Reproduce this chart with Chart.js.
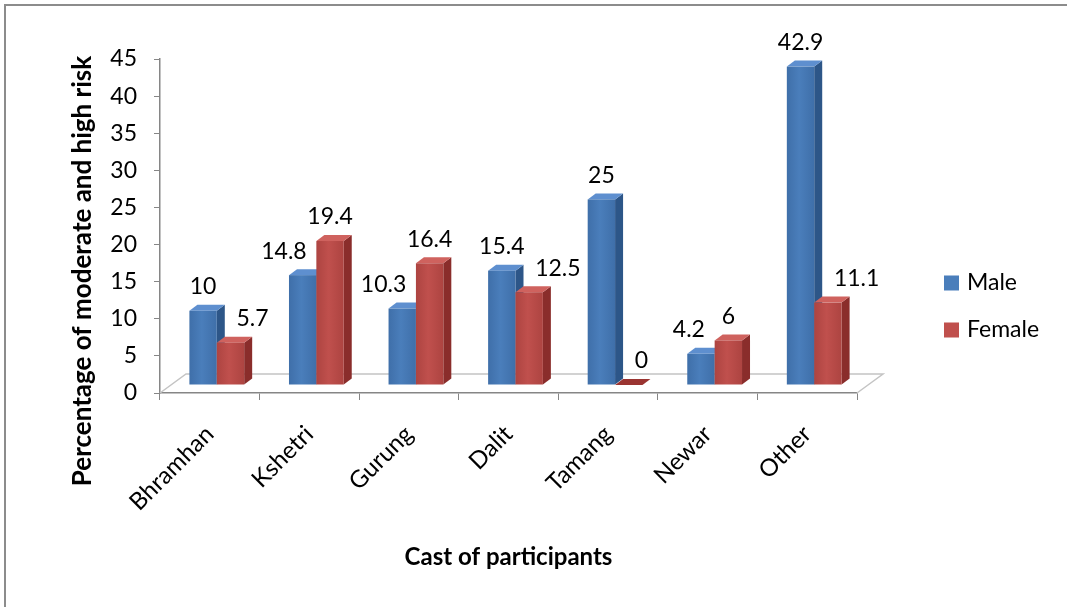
<!DOCTYPE html>
<html>
<head>
<meta charset="utf-8">
<title>Cast of participants</title>
<script src="https://cdn.jsdelivr.net/npm/chart.js@4.4.1/dist/chart.umd.min.js"></script>
<style>
  html, body { margin: 0; padding: 0; background: #fff; }
  #wrap { position: relative; width: 1067px; height: 607px; overflow: hidden; }
  #frame {
    position: absolute; left: 4px; top: 4px; width: 1100px; height: 700px;
    border-left: 2px solid #8c8c8c; border-top: 2px solid #8c8c8c;
  }
  canvas { position: absolute; left: 0; top: 0; }
</style>
</head>
<body>
<div id="wrap">
  <div id="frame"></div>
  <canvas id="chart" width="1067" height="607"></canvas>
</div>
<script>
const categories = ['Bhramhan', 'Kshetri', 'Gurung', 'Dalit', 'Tamang', 'Newar', 'Other'];
const maleValues = [10, 14.8, 10.3, 15.4, 25, 4.2, 42.9];
const femaleValues = [5.7, 19.4, 16.4, 12.5, 0, 6, 11.1];
const seriesNames = ['Male', 'Female'];
const yTicks = [0, 5, 10, 15, 20, 25, 30, 35, 40, 45];
const yTitle = 'Percentage of moderate and high risk';
const xTitle = 'Cast of participants';

const FONT = 'Lato, "Open Sans", sans-serif';
const AXIS_GRAY = '#868686';

// 3d look: bars sit a little behind the axis plane and have some depth
const SHIFT_X = 7, SHIFT_Y = -8;
const DEPTH_X = 8, DEPTH_Y = -6;
const FLOOR_X = 26, FLOOR_Y = -19;

const faces = [
  { front: '#4a7ebb', edge: '#3f6fa9', side: '#2d5688', top: '#5e8fcf', flat: '#2d5688' },
  { front: '#c0504d', edge: '#ad4441', side: '#8a2d2b', top: '#cf625e', flat: '#9a3431' },
];

function drawBar(ctx, el, col) {
  const p = el.getProps(['x', 'y', 'base', 'width'], true);
  const l = p.x - p.width / 2 + SHIFT_X;
  const r = p.x + p.width / 2 + SHIFT_X;
  const t = Math.min(p.y, p.base) + SHIFT_Y;
  const b = p.base + SHIFT_Y;
  const h = b - t;

  // right side
  ctx.fillStyle = col.side;
  ctx.beginPath();
  ctx.moveTo(r, t);
  ctx.lineTo(r + DEPTH_X, t + DEPTH_Y);
  ctx.lineTo(r + DEPTH_X, b + DEPTH_Y);
  ctx.lineTo(r, b);
  ctx.closePath();
  ctx.fill();

  // top
  ctx.fillStyle = h < 1 ? col.flat : col.top;
  ctx.beginPath();
  ctx.moveTo(l, t);
  ctx.lineTo(l + DEPTH_X, t + DEPTH_Y);
  ctx.lineTo(r + DEPTH_X, t + DEPTH_Y);
  ctx.lineTo(r, t);
  ctx.closePath();
  ctx.fill();

  // front
  if (h >= 1) {
    const grad = ctx.createLinearGradient(l, 0, r, 0);
    grad.addColorStop(0, col.edge);
    grad.addColorStop(0.45, col.front);
    grad.addColorStop(1, col.edge);
    ctx.fillStyle = grad;
    ctx.fillRect(l, t, r - l, h);
  }
  return { cx: (l + r) / 2, top: t };
}

const bars3d = {
  id: 'bars3d',
  beforeDatasetsDraw(chart) {
    const ctx = chart.ctx;
    const area = chart.chartArea;

    // floor
    ctx.save();
    ctx.strokeStyle = '#c4c4c4';
    ctx.lineWidth = 1.5;
    ctx.beginPath();
    ctx.moveTo(area.left, area.bottom);
    ctx.lineTo(area.left + FLOOR_X, area.bottom + FLOOR_Y);
    ctx.lineTo(area.right + FLOOR_X, area.bottom + FLOOR_Y);
    ctx.lineTo(area.right, area.bottom);
    ctx.stroke();
    ctx.restore();

    const metas = chart.data.datasets.map((d, i) => chart.getDatasetMeta(i));
    const labels = [];
    ctx.save();
    categories.forEach((c, i) => {
      metas.forEach((meta, di) => {
        const pos = drawBar(ctx, meta.data[i], faces[di]);
        labels.push({ di, i, pos });
      });
    });

    // value labels
    ctx.font = '23px ' + FONT;
    ctx.fillStyle = '#000';
    ctx.textAlign = 'center';
    ctx.textBaseline = 'middle';
    labels.forEach(({ di, i, pos }) => {
      const own = chart.data.datasets[di].data[i];
      const other = chart.data.datasets[1 - di].data[i];
      const txt = String(own);
      const w = ctx.measureText(txt).width;
      let x = pos.cx;
      if (di === 0 && other > own) x -= w / 2 - 4;
      if (di === 1 && other > own) x += w / 2 + 6;
      ctx.fillText(txt, x, pos.top - 24);
    });
    ctx.restore();
    return false;
  },
  afterDraw(chart) {
    const ctx = chart.ctx;
    const area = chart.chartArea;

    // y axis title, sits lower than the plot centre in the original
    ctx.save();
    ctx.font = 'bold 26px ' + FONT;
    ctx.fillStyle = '#000';
    ctx.textAlign = 'center';
    ctx.textBaseline = 'middle';
    ctx.translate(83, 271);
    ctx.rotate(-Math.PI / 2);
    ctx.fillText(yTitle, 0, 0);
    ctx.restore();

    // legend at the right
    const boxX = area.right + 87;
    const midY = chart.height / 2 + 3;
    ctx.save();
    ctx.font = '23px ' + FONT;
    ctx.textBaseline = 'middle';
    ctx.textAlign = 'left';
    chart.data.datasets.forEach((ds, di) => {
      const y = midY + (di - 0.5) * 47;
      ctx.fillStyle = faces[di].front;
      ctx.fillRect(boxX, y - 7.5, 15, 15);
      ctx.fillStyle = '#000';
      ctx.fillText(ds.label, boxX + 23, y);
    });
    ctx.restore();
  },
};

Chart.defaults.font.family = FONT;
Chart.defaults.color = '#000';

new Chart(document.getElementById('chart'), {
  type: 'bar',
  data: {
    labels: categories,
    datasets: [
      { label: seriesNames[0], data: maleValues, backgroundColor: faces[0].front },
      { label: seriesNames[1], data: femaleValues, backgroundColor: faces[1].front },
    ],
  },
  options: {
    responsive: false,
    animation: false,
    layout: { padding: { top: 59, right: 210, bottom: 0, left: 0 } },
    datasets: { bar: { categoryPercentage: 0.55, barPercentage: 1 } },
    plugins: { legend: { display: false }, tooltip: { enabled: false } },
    scales: {
      x: {
        grid: { display: true, drawOnChartArea: false, drawTicks: true, tickLength: 7, color: AXIS_GRAY, offset: true },
        border: { display: true, color: AXIS_GRAY, width: 1.5 },
        ticks: { font: { size: 24 }, minRotation: 45, maxRotation: 45, padding: 20 },
        title: {
          display: true,
          text: xTitle,
          font: { size: 24, weight: 'bold' },
          padding: { top: 0, bottom: 35 },
        },
        afterFit(scale) { scale.height = 214; },
      },
      y: {
        min: 0,
        max: 45,
        afterBuildTicks(scale) { scale.ticks = yTicks.map(v => ({ value: v })); },
        grid: { display: true, drawOnChartArea: false, drawTicks: true, tickLength: 6, color: AXIS_GRAY },
        border: { display: true, color: AXIS_GRAY, width: 1.5 },
        ticks: { font: { size: 23 }, padding: 17 },
        title: { display: false },
        afterFit(scale) { scale.width = 160; },
      },
    },
  },
  plugins: [bars3d],
});
</script>
</body>
</html>
